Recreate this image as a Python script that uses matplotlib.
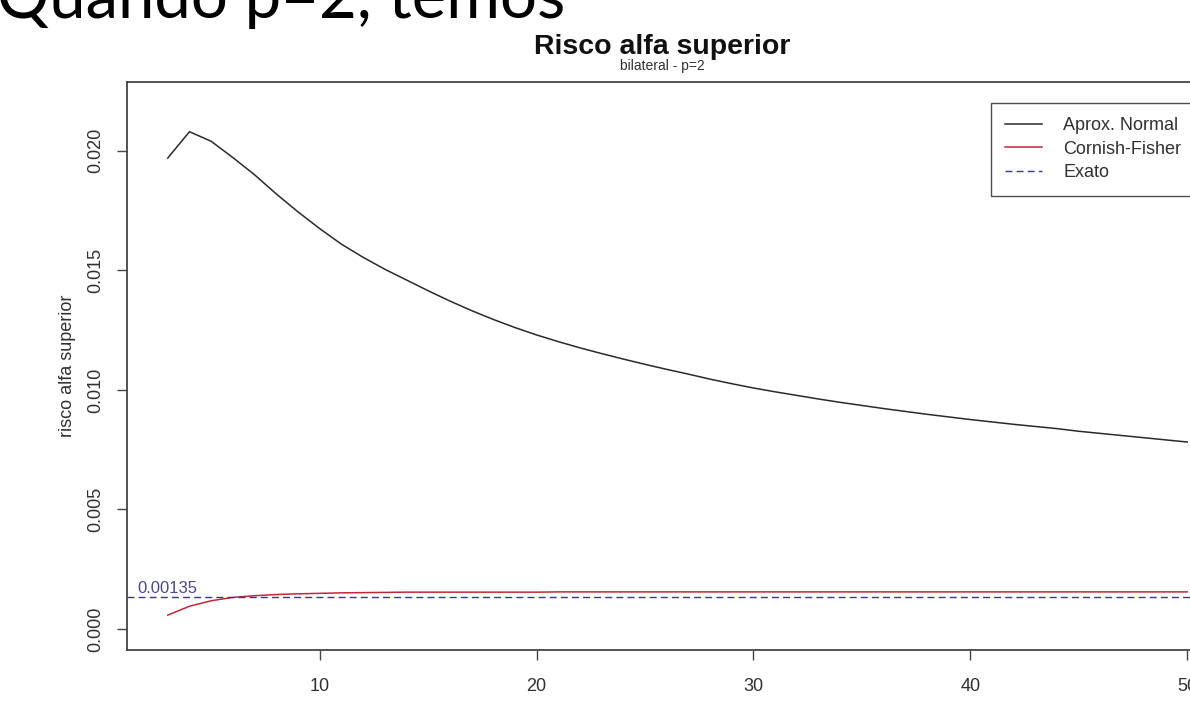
import matplotlib
matplotlib.use("Agg")
import matplotlib.pyplot as plt
import numpy as np

# ---- data ----
n_values = list(range(3, 51))
aprox_normal = [19.7, 20.8, 20.4, 19.72, 19.0, 18.2, 17.45, 16.75, 16.1, 15.55,
                15.05, 14.6, 14.15, 13.72, 13.32, 12.95, 12.61, 12.3, 12.02, 11.76,
                11.52, 11.29, 11.07, 10.86, 10.66, 10.45, 10.26, 10.08, 9.92, 9.77,
                9.62, 9.48, 9.35, 9.22, 9.1, 8.98, 8.87, 8.76, 8.66, 8.56,
                8.47, 8.38, 8.27, 8.18, 8.09, 8.0, 7.91, 7.82]
aprox_normal = [v / 1000 for v in aprox_normal]
cornish_fisher = [0.58, 0.95, 1.18, 1.32, 1.39, 1.44, 1.47, 1.49, 1.51, 1.52,
                  1.53, 1.54, 1.54, 1.54, 1.54, 1.54, 1.54, 1.54, 1.55, 1.55,
                  1.55, 1.55, 1.55, 1.55, 1.55, 1.55, 1.55, 1.55, 1.55, 1.55,
                  1.55, 1.55, 1.55, 1.55, 1.55, 1.55, 1.55, 1.55, 1.55, 1.55,
                  1.55, 1.55, 1.55, 1.55, 1.55, 1.55, 1.55, 1.55]
cornish_fisher = [v / 1000 for v in cornish_fisher]
exato = 0.00135
exato_label = "0.00135"

x_ticks = [10, 20, 30, 40, 50]
y_ticks = [0.000, 0.005, 0.010, 0.015, 0.020]
y_ticklabels = ["0.000", "0.005", "0.010", "0.015", "0.020"]
legend_labels = ["Aprox. Normal", "Cornish-Fisher", "Exato"]

header = "Quando p=2, temos"
title = "Risco alfa superior"
subtitle = "bilateral - p=2"
ylabel = "risco alfa superior"

# ---- figure ----
W, H = 1190, 704
fig = plt.figure(figsize=(W / 100, H / 100), dpi=100)
plt.rcParams['font.family'] = ['Liberation Sans', 'DejaVu Sans']

ax_left, ax_right, ax_top, ax_bottom = 127, 1228, 82, 650
ax = fig.add_axes([ax_left / W, 1 - ax_bottom / H,
                   (ax_right - ax_left) / W, (ax_bottom - ax_top) / H])

c_black = "#2a2a2a"
c_red = "#c0283a"
c_blue = "#3535a8"
c_axis = "#444444"
c_text = "#303030"

ax.plot(n_values, aprox_normal, color=c_black, lw=1.1, label=legend_labels[0])
ax.plot(n_values, cornish_fisher, color=c_red, lw=1.1, label=legend_labels[1])
ax.axhline(exato, color=c_blue, lw=1.0, ls=(0, (5, 3)), label=legend_labels[2])
ax.text(1.6, exato + 0.00015, exato_label, color="#4a4a8c", fontsize=12,
        va='baseline', ha='left')

ax.set_xlim(1.12, 51.88)
ax.set_ylim(-0.00088, 0.02288)
ax.set_xticks(x_ticks)
ax.set_xticklabels([str(t) for t in x_ticks])
ax.set_yticks(y_ticks)
ax.set_yticklabels(y_ticklabels, rotation=90, va='center')

for s in ax.spines.values():
    s.set_color(c_axis)
    s.set_linewidth(1.3)
ax.tick_params(axis='both', direction='out', length=7.5, width=1.0,
               color=c_axis, labelcolor=c_text, labelsize=13)
ax.tick_params(axis='x', pad=13)
ax.tick_params(axis='y', pad=9)

ax.set_ylabel(ylabel, fontsize=13, color=c_text)
ax.yaxis.set_label_coords((76 - ax_left) / (ax_right - ax_left), 0.5)

leg = ax.legend(loc='upper left', bbox_to_anchor=(991 / W, 1 - 103 / H),
                bbox_transform=fig.transFigure, fontsize=13, frameon=True,
                fancybox=False, shadow=False, borderpad=0.8, labelspacing=0.35,
                handlelength=2.0, handletextpad=1.2, borderaxespad=0.0)
leg.get_frame().set_edgecolor("#222222")
leg.get_frame().set_linewidth(1.0)
for t in leg.get_texts():
    t.set_color(c_text)

fig.text(662 / W, 1 - 54 / H, title, fontsize=20.5, fontweight='bold',
         ha='center', va='baseline', color="#111111")
fig.text(662 / W, 1 - 66 / H, subtitle, fontsize=10, ha='center',
         va='center', color=c_text)

fig.text(565 / W, 1 - 18 / H, header, fontsize=47, ha='right',
         va='baseline', color="black", family=['Lato', 'DejaVu Sans'])

fig.savefig("out.png", dpi=100)
